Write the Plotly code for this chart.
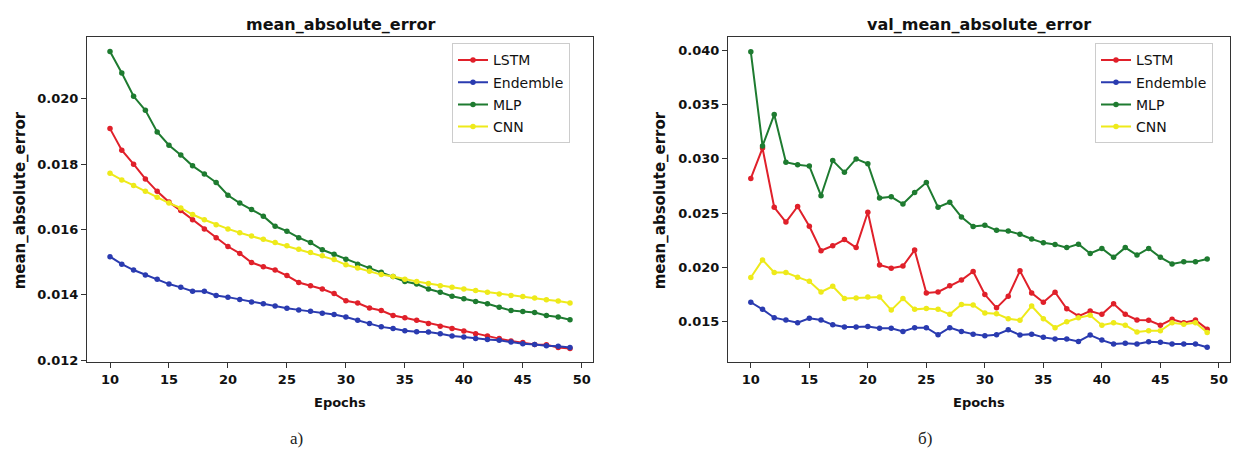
import plotly.graph_objects as go

W, H = 1233, 453

epochs = list(range(10, 50))
series_names = ["LSTM", "Endemble", "MLP", "CNN"]
series_colors = ["#e0202a", "#2a3bb0", "#1e7b30", "#eeea1a"]

lstm_train = [0.01909, 0.01843, 0.01800, 0.01755, 0.01717, 0.01684, 0.01658, 0.01630, 0.01602, 0.01575,
              0.01548, 0.01527, 0.01499, 0.01486, 0.01476, 0.01459, 0.01438, 0.01428, 0.01418, 0.01404,
              0.01382, 0.01375, 0.01360, 0.01352, 0.01337, 0.01330, 0.01322, 0.01312, 0.01304, 0.01297,
              0.01289, 0.01281, 0.01274, 0.01266, 0.01259, 0.01254, 0.01248, 0.01247, 0.01239, 0.01236]
ens_train = [0.01517, 0.01494, 0.01476, 0.01461, 0.01448, 0.01433, 0.01423, 0.01411, 0.01411, 0.01398,
             0.01393, 0.01386, 0.01378, 0.01373, 0.01366, 0.01359, 0.01354, 0.01350, 0.01344, 0.01340,
             0.01332, 0.01322, 0.01312, 0.01302, 0.01297, 0.01290, 0.01287, 0.01286, 0.01281, 0.01274,
             0.01271, 0.01266, 0.01263, 0.01261, 0.01256, 0.01250, 0.01248, 0.01244, 0.01243, 0.01239]
mlp_train = [0.02145, 0.02079, 0.02008, 0.01965, 0.01899, 0.01858, 0.01828, 0.01795, 0.01770, 0.01744,
             0.01705, 0.01681, 0.01661, 0.01641, 0.01610, 0.01595, 0.01575, 0.01560, 0.01538, 0.01524,
             0.01509, 0.01494, 0.01482, 0.01469, 0.01456, 0.01441, 0.01433, 0.01418, 0.01408, 0.01396,
             0.01388, 0.01380, 0.01373, 0.01362, 0.01352, 0.01349, 0.01346, 0.01337, 0.01332, 0.01324]
cnn_train = [0.01772, 0.01752, 0.01735, 0.01717, 0.01699, 0.01681, 0.01666, 0.01646, 0.01630, 0.01615,
             0.01602, 0.01590, 0.01580, 0.01570, 0.01560, 0.01550, 0.01540, 0.01530, 0.01520, 0.01508,
             0.01492, 0.01482, 0.01472, 0.01462, 0.01456, 0.01448, 0.01441, 0.01435, 0.01428, 0.01423,
             0.01418, 0.01413, 0.01408, 0.01403, 0.01398, 0.01395, 0.01390, 0.01385, 0.01381, 0.01375]

lstm_val = [0.02820, 0.03100, 0.02553, 0.02416, 0.02560, 0.02377, 0.02151, 0.02197, 0.02254, 0.02180,
            0.02507, 0.02020, 0.01990, 0.02010, 0.02157, 0.01760, 0.01770, 0.01828, 0.01880, 0.01959,
            0.01746, 0.01623, 0.01730, 0.01965, 0.01760, 0.01675, 0.01767, 0.01614, 0.01547, 0.01593,
            0.01563, 0.01660, 0.01563, 0.01511, 0.01508, 0.01463, 0.01517, 0.01486, 0.01511, 0.01426]
ens_val = [0.01675, 0.01609, 0.01532, 0.01511, 0.01486, 0.01527, 0.01511, 0.01466, 0.01447, 0.01447,
           0.01450, 0.01435, 0.01435, 0.01404, 0.01440, 0.01440, 0.01374, 0.01440, 0.01404, 0.01380,
           0.01365, 0.01374, 0.01420, 0.01371, 0.01380, 0.01350, 0.01335, 0.01335, 0.01313, 0.01371,
           0.01325, 0.01289, 0.01295, 0.01289, 0.01310, 0.01304, 0.01289, 0.01289, 0.01289, 0.01258]
mlp_val = [0.03990, 0.03120, 0.03410, 0.02970, 0.02946, 0.02934, 0.02660, 0.02985, 0.02876, 0.03000,
           0.02955, 0.02638, 0.02650, 0.02583, 0.02690, 0.02782, 0.02553, 0.02599, 0.02462, 0.02375,
           0.02386, 0.02340, 0.02334, 0.02303, 0.02260, 0.02224, 0.02208, 0.02180, 0.02212, 0.02126,
           0.02172, 0.02090, 0.02180, 0.02111, 0.02172, 0.02090, 0.02029, 0.02050, 0.02050, 0.02075]
cnn_val = [0.01904, 0.02066, 0.01950, 0.01950, 0.01907, 0.01868, 0.01770, 0.01822, 0.01709, 0.01715,
           0.01724, 0.01724, 0.01602, 0.01709, 0.01609, 0.01618, 0.01609, 0.01563, 0.01654, 0.01650,
           0.01575, 0.01569, 0.01523, 0.01508, 0.01639, 0.01523, 0.01440, 0.01495, 0.01532, 0.01554,
           0.01463, 0.01486, 0.01463, 0.01400, 0.01411, 0.01411, 0.01486, 0.01471, 0.01486, 0.01395]

x_ticks = [10, 15, 20, 25, 30, 35, 40, 45, 50]
left_y_ticks = [0.012, 0.014, 0.016, 0.018, 0.020]
right_y_ticks = [0.015, 0.020, 0.025, 0.030, 0.035, 0.040]

left_title = "mean_absolute_error"
right_title = "val_mean_absolute_error"
y_label = "mean_absolute_error"
x_label = "Epochs"
panel_labels = ["а)", "б)"]

train_series = [lstm_train, ens_train, mlp_train, cnn_train]
val_series = [lstm_val, ens_val, mlp_val, cnn_val]


def px_x(x):
    return x / W


def px_y(y):
    return 1 - y / H


fig = go.Figure()

for name, color, vals in zip(series_names, series_colors, train_series):
    fig.add_trace(go.Scatter(
        x=epochs, y=vals, name=name, mode="lines+markers",
        line=dict(color=color, width=2), marker=dict(color=color, size=5.5),
        xaxis="x", yaxis="y", legend="legend", legendgroup="a" + name))

for name, color, vals in zip(series_names, series_colors, val_series):
    fig.add_trace(go.Scatter(
        x=epochs, y=vals, name=name, mode="lines+markers",
        line=dict(color=color, width=2), marker=dict(color=color, size=5.5),
        xaxis="x2", yaxis="y2", legend="legend2", legendgroup="b" + name))

tick_font = dict(family="DejaVu Sans", size=13, color="#111111", weight="bold")
axis_common = dict(showline=True, linecolor="#333333", linewidth=1.2, mirror=True,
                   ticks="outside", ticklen=5, tickcolor="#333333", showgrid=False,
                   zeroline=False, tickfont=tick_font)

ydom = [px_y(367), px_y(37)]
legend_font = dict(family="DejaVu Sans", size=14, color="#111111")

fig.update_layout(
    width=W, height=H,
    margin=dict(l=0, r=0, t=0, b=0),
    paper_bgcolor="white", plot_bgcolor="white",
    showlegend=True,
    xaxis=dict(domain=[px_x(87), px_x(593)], range=[8.05, 50.95], tickvals=x_ticks,
               anchor="y", **axis_common),
    yaxis=dict(domain=ydom, range=[0.01194, 0.02191], tickvals=left_y_ticks,
               tickformat=".3f", anchor="x", **axis_common),
    xaxis2=dict(domain=[px_x(728), px_x(1230)], range=[8.05, 50.95], tickvals=x_ticks,
                anchor="y2", **axis_common),
    yaxis2=dict(domain=ydom, range=[0.01121, 0.04132], tickvals=right_y_ticks,
                tickformat=".3f", anchor="x2", **axis_common),
    legend=dict(x=px_x(452), y=px_y(44), xanchor="left", yanchor="top",
                bgcolor="rgba(255,255,255,0.85)", bordercolor="#cccccc", borderwidth=1,
                font=legend_font, tracegroupgap=1),
    legend2=dict(x=px_x(1095), y=px_y(44), xanchor="left", yanchor="top",
                 bgcolor="rgba(255,255,255,0.85)", bordercolor="#cccccc", borderwidth=1,
                 font=legend_font, tracegroupgap=1),
)

title_font = dict(family="DejaVu Sans", size=16, color="#111111", weight="bold")
label_font = dict(family="DejaVu Sans", size=13, color="#111111", weight="bold")
ylabel_font = dict(family="DejaVu Sans", size=15, color="#111111", weight="bold")
panel_font = dict(family="Liberation Serif", size=17, color="#222222")

annotations = [
    dict(text=left_title, x=px_x(340), y=px_y(25), font=title_font),
    dict(text=right_title, x=px_x(979), y=px_y(25), font=title_font),
    dict(text=x_label, x=px_x(340), y=px_y(408), font=label_font),
    dict(text=x_label, x=px_x(979), y=px_y(408), font=label_font),
    dict(text=y_label, x=px_x(20), y=px_y(203), font=ylabel_font, textangle=-90),
    dict(text=y_label, x=px_x(660), y=px_y(203), font=ylabel_font, textangle=-90),
    dict(text=panel_labels[0], x=px_x(296), y=px_y(444), font=panel_font),
    dict(text=panel_labels[1], x=px_x(925), y=px_y(444), font=panel_font),
]
for a in annotations:
    a.update(xref="paper", yref="paper", showarrow=False, xanchor="center", yanchor="middle")
fig.update_layout(annotations=annotations)

# remove the default page margin so the figure sits at the window's top-left corner
page_fix = "document.body.style.margin='0';document.body.style.overflow='hidden';"
fig.write_html("out.html", post_script=page_fix, config={"displayModeBar": False})
